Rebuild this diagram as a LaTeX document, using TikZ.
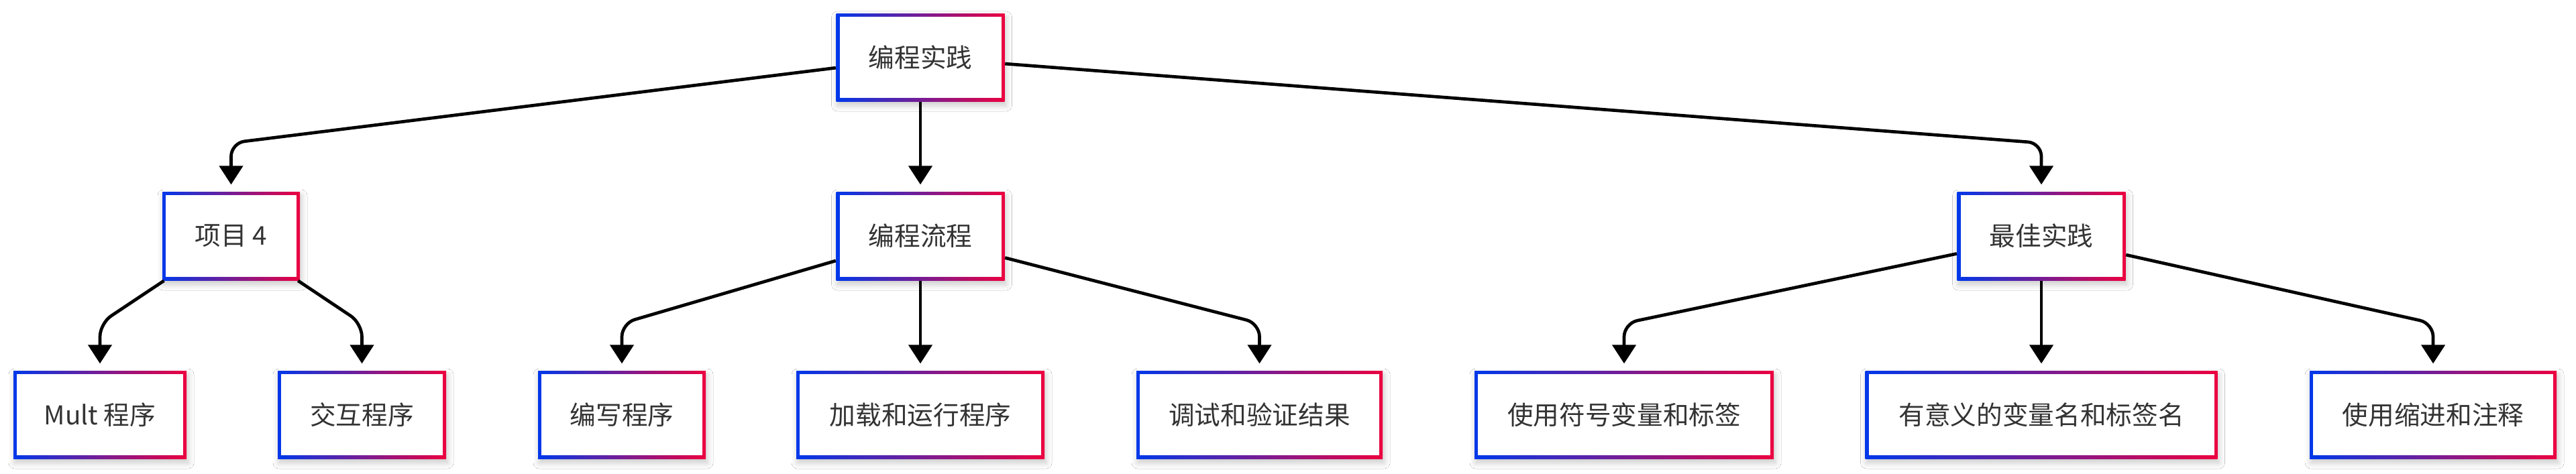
\documentclass[tikz,border=0pt]{standalone}
\usepackage{fontspec}
\setmainfont{Noto Sans CJK SC}
\usetikzlibrary{arrows.meta,calc,shadows.blur}
\definecolor{gblue}{RGB}{0,56,234}
\definecolor{gred}{RGB}{236,0,64}
\definecolor{txt}{RGB}{51,51,51}
\begin{document}
\begin{tikzpicture}[
  gbox/.style={rectangle, draw=none, minimum height=1.31cm, inner sep=0pt,
    left color=gblue, right color=gred,
    blur shadow={shadow xshift=0.02cm, shadow yshift=-0.06cm, shadow blur radius=0.09cm, shadow blur steps=8, shadow opacity=22},
    path picture={\fill[white] ([shift={(0.05cm,0.05cm)}]path picture bounding box.south west) rectangle ([shift={(-0.05cm,-0.05cm)}]path picture bounding box.north east);},
    text=txt, font=\fontsize{11}{13}\selectfont},
  conn/.style={draw=black, line width=1.35pt, rounded corners=0.2cm,
    -{Triangle[width=0.35cm,length=0.28cm]}, shorten >=0.1cm}
]
\fill[white] (0,0) rectangle (38.4,7.06);
\useasboundingbox (0,0) rectangle (38.4,7.06);

% level 1
\node[gbox, minimum width=2.51cm] (top) at (13.72,6.205) {编程实践};
% level 2
\node[gbox, minimum width=2.05cm, minimum height=1.32cm] (p4) at (3.445,3.54) {项目 4};
\node[gbox, minimum width=2.51cm, minimum height=1.32cm] (flow) at (13.72,3.54) {编程流程};
\node[gbox, minimum width=2.51cm, minimum height=1.32cm] (best) at (30.43,3.54) {最佳实践};
% level 3
\node[gbox, minimum width=2.58cm] (mult) at (1.49,0.875) {Mult 程序};
\node[gbox, minimum width=2.51cm] (jiaohu) at (5.395,0.875) {交互程序};
\node[gbox, minimum width=2.50cm] (bianxie) at (9.27,0.875) {编写程序};
\node[gbox, minimum width=3.70cm] (jiazai) at (13.72,0.875) {加载和运行程序};
\node[gbox, minimum width=3.67cm] (tiaoshi) at (18.775,0.875) {调试和验证结果};
\node[gbox, minimum width=4.46cm] (fuhao) at (24.21,0.875) {使用符号变量和标签};
\node[gbox, minimum width=5.25cm] (youyi) at (30.43,0.875) {有意义的变量名和标签名};
\node[gbox, minimum width=3.68cm] (suojin) at (36.27,0.875) {使用缩进和注释};

% bend points
\coordinate (kp4) at ($(p4.north)+(0,0.72)$);
\coordinate (kbest) at ($(best.north)+(0,0.72)$);
\coordinate (kmult) at ($(mult.north)+(0,0.70)$);
\coordinate (kjiaohu) at ($(jiaohu.north)+(0,0.70)$);
\coordinate (kbianxie) at ($(bianxie.north)+(0,0.70)$);
\coordinate (ktiaoshi) at ($(tiaoshi.north)+(0,0.70)$);
\coordinate (kfuhao) at ($(fuhao.north)+(0,0.70)$);
\coordinate (ksuojin) at ($(suojin.north)+(0,0.70)$);

% connectors
\draw[conn] (top) -- (kp4) -- (p4);
\draw[conn] (top) -- (flow);
\draw[conn] (top) -- (kbest) -- (best);
\draw[conn] (p4) -- (kmult) -- (mult);
\draw[conn] (p4) -- (kjiaohu) -- (jiaohu);
\draw[conn] (flow) -- (kbianxie) -- (bianxie);
\draw[conn] (flow) -- (jiazai);
\draw[conn] (flow) -- (ktiaoshi) -- (tiaoshi);
\draw[conn] (best) -- (kfuhao) -- (fuhao);
\draw[conn] (best) -- (youyi);
\draw[conn] (best) -- (ksuojin) -- (suojin);
\end{tikzpicture}
\end{document}
